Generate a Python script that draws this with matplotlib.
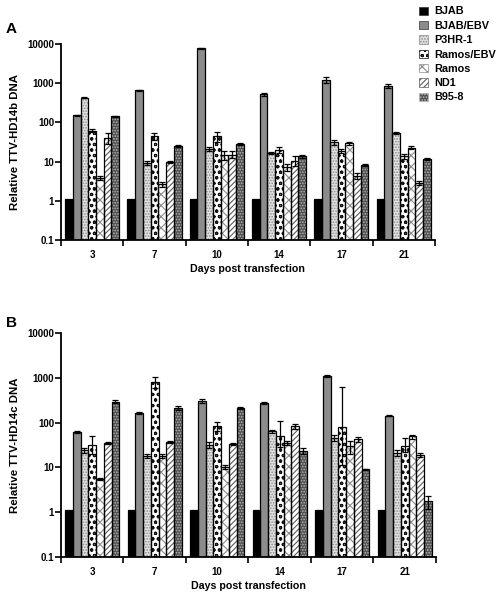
import matplotlib
matplotlib.use("Agg")
import matplotlib.pyplot as plt
import numpy as np
from matplotlib.patches import Patch

plt.rcParams['font.family'] = ['Liberation Sans', 'DejaVu Sans']
plt.rcParams['font.weight'] = 'bold'
plt.rcParams['hatch.linewidth'] = 0.8

days = ["3", "7", "10", "14", "17", "21"]
series = ["BJAB", "BJAB/EBV", "P3HR-1", "Ramos/EBV", "Ramos", "ND1", "B95-8"]

# Panel A: TTV-HD14b
a_bjab = [1, 1, 1, 1, 1, 1]
a_bjab_ebv = [150, 670, 7700, 520, 1220, 850]
a_p3hr1 = [430, 9.3, 21, 16.5, 31, 53]
a_ramos_ebv = [62, 44, 44, 20, 18.5, 13.5]
a_ramos = [3.7, 2.6, 15, 7, 29, 22.5]
a_nd1 = [40, 9.8, 15, 10.5, 4.3, 2.8]
a_b958 = [142, 25, 28.5, 13.5, 8.3, 11.7]

a_bjab_err = [0, 0, 0, 0, 0, 0]
a_bjab_ebv_err = [8, 20, 400, 40, 200, 100]
a_p3hr1_err = [20, 1.2, 2.5, 1, 4, 3]
a_ramos_ebv_err = [5, 8, 12, 4, 2, 2]
a_ramos_err = [0.4, 0.4, 4, 1.5, 3, 2]
a_nd1_err = [12, 0.5, 3, 3, 0.8, 0.3]
a_b958_err = [5, 1.5, 1.5, 1, 0.5, 0.5]

# Panel B: TTV-HD14c
b_bjab = [1, 1, 1, 1, 1, 1]
b_bjab_ebv = [61, 164, 300, 275, 1090, 143]
b_p3hr1 = [24, 18, 32, 64, 45, 21]
b_ramos_ebv = [32, 800, 83, 49, 80, 29.5]
b_ramos = [5.4, 18, 10.2, 35, 29.5, 49]
b_nd1 = [35, 37, 33, 83, 42, 18.6]
b_b958 = [295, 213, 213, 23.6, 8.9, 1.65]

b_bjab_err = [0, 0, 0, 0, 0, 0]
b_bjab_ebv_err = [3, 10, 30, 15, 60, 5]
b_p3hr1_err = [3, 1.5, 5, 5, 7, 3]
b_ramos_ebv_err_lo = [12, 200, 18, 20, 69, 8]
b_ramos_ebv_err_hi = [18, 250, 22, 58, 550, 15]
b_ramos_err = [0.3, 1.5, 1, 3, 10, 5]
b_nd1_err = [2, 2, 2, 10, 6, 2]
b_b958_err = [20, 25, 10, 4, 0.3, 0.6]

# style: (facecolor, hatch, hatchcolor)
styles = [
    ("#000000", None, None),
    ("#8c8c8c", None, None),
    ("#e2e2e2", "......", "#8a8a8a"),
    ("#ffffff", "ooo", "#111111"),
    ("#ffffff", "xxx", "#8a8a8a"),
    ("#ffffff", "//////", "#5a5a5a"),
    ("#505050", "......", "#b8b8b8"),
]

fig = plt.figure(figsize=(4.97, 5.92), dpi=100)
axA = fig.add_axes([0.1227, 0.5946, 0.7523, 0.3311])
axB = fig.add_axes([0.1227, 0.0591, 0.7543, 0.3784])

panelA_vals = [a_bjab, a_bjab_ebv, a_p3hr1, a_ramos_ebv, a_ramos, a_nd1, a_b958]
panelA_err = [a_bjab_err, a_bjab_ebv_err, a_p3hr1_err, a_ramos_ebv_err, a_ramos_err, a_nd1_err, a_b958_err]
panelA_err = [[e, e] for e in panelA_err]
panelB_vals = [b_bjab, b_bjab_ebv, b_p3hr1, b_ramos_ebv, b_ramos, b_nd1, b_b958]
panelB_err = [[b_bjab_err, b_bjab_err], [b_bjab_ebv_err, b_bjab_ebv_err], [b_p3hr1_err, b_p3hr1_err],
              [b_ramos_ebv_err_lo, b_ramos_ebv_err_hi], [b_ramos_err, b_ramos_err],
              [b_nd1_err, b_nd1_err], [b_b958_err, b_b958_err]]

nser = len(series)
width = 0.124
x = np.arange(len(days))


def draw(ax, vals, errs, ylabel):
    for i in range(nser):
        pos = x + (i - (nser - 1) / 2) * width
        fc, h, hc = styles[i]
        ax.bar(pos, vals[i], width, bottom=0.1, color=fc, edgecolor=hc if h else fc,
               hatch=h, linewidth=0, zorder=2)
        ax.bar(pos, vals[i], width, bottom=0.1, fill=False, edgecolor="black",
               linewidth=0.9, zorder=3)
        lo = np.array(errs[i][0], dtype=float)
        hi = np.array(errs[i][1], dtype=float)
        v = np.array(vals[i], dtype=float)
        m = (lo + hi) > 0
        if m.any():
            ax.errorbar(pos[m], v[m] + 0.1, yerr=[lo[m], hi[m]], fmt="none",
                        ecolor="black", elinewidth=0.9, capsize=2.5, capthick=0.9, zorder=4)
    ax.set_yscale("log")
    ax.set_ylim(0.1, 10000)
    ax.set_xlim(-0.5, 5.5)
    ax.set_yticks([0.1, 1, 10, 100, 1000, 10000])
    ax.set_yticklabels(["0.1", "1", "10", "100", "1000", "10000"])
    ax.yaxis.set_minor_locator(matplotlib.ticker.NullLocator())
    ax.set_xticks(x)
    ax.set_xticklabels(days)
    ax.set_xticks(np.arange(-0.5, 6.0, 1.0), minor=True)
    ax.tick_params(axis="x", which="major", length=0, pad=7, labelsize=7)
    ax.tick_params(axis="x", which="minor", length=4, width=1.2, direction="out")
    ax.tick_params(axis="y", which="major", length=4, width=1.2, labelsize=7, pad=1)
    for s in ["top", "right"]:
        ax.spines[s].set_visible(False)
    for s in ["left", "bottom"]:
        ax.spines[s].set_linewidth(1.3)
    ax.set_ylabel(ylabel, fontsize=8.2, fontweight="bold", labelpad=5)
    ax.set_xlabel("Days post transfection", fontsize=7.7, fontweight="bold", labelpad=3)


draw(axA, panelA_vals, panelA_err, "Relative TTV-HD14b DNA")
draw(axB, panelB_vals, panelB_err, "Relative TTV-HD14c DNA")

fig.text(0.012, 0.945, "A", fontsize=11, fontweight="bold")
fig.text(0.012, 0.448, "B", fontsize=11, fontweight="bold")

handles = []
for i in range(nser):
    fc, h, hc = styles[i]
    if h:
        handles.append(Patch(facecolor=fc, edgecolor=hc, hatch=h, linewidth=0.5))
    else:
        handles.append(Patch(facecolor=fc, edgecolor="#333333", linewidth=0.5))
fig.legend(handles, series, loc="upper left", bbox_to_anchor=(0.83, 1.0),
           frameon=False, fontsize=7.8, handlelength=0.8, handleheight=0.8,
           handletextpad=0.6, labelspacing=0.4, borderaxespad=0.2)

fig.savefig("out.png", dpi=100)
